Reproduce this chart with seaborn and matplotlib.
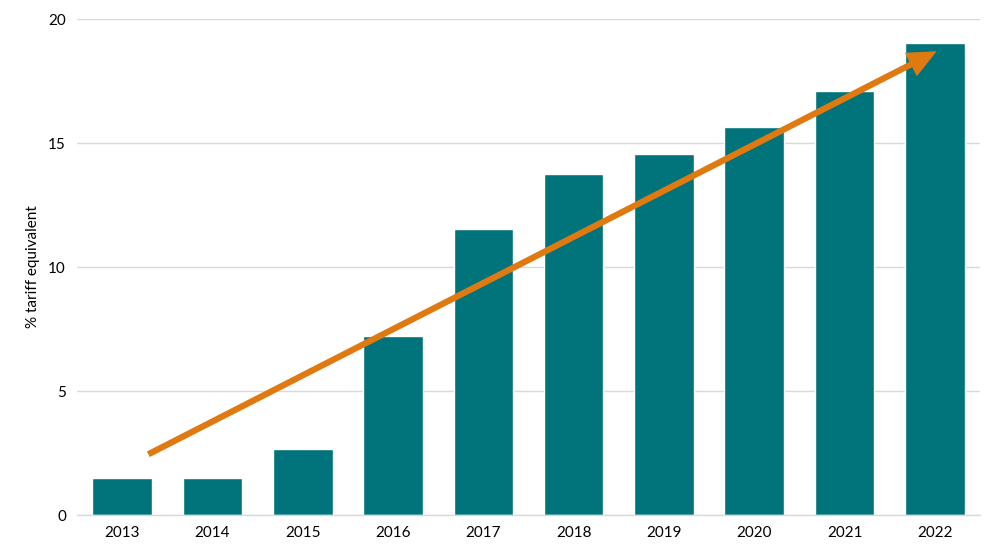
import matplotlib
matplotlib.use("Agg")
import matplotlib.pyplot as plt
import seaborn as sns
import pandas as pd

years = ["2013", "2014", "2015", "2016", "2017", "2018", "2019", "2020", "2021", "2022"]
values = [1.5, 1.5, 2.65, 7.2, 11.55, 13.75, 14.55, 15.65, 17.1, 19.05]
y_ticks = [0, 5, 10, 15, 20]
arrow_start = (0.29, 2.45)
arrow_end = (9.02, 18.7)

sns.set_theme(style="white")
plt.rcParams["font.family"] = ["Lato", "DejaVu Sans"]

df = pd.DataFrame({"year": years, "value": values})

fig = plt.figure(figsize=(10, 5.56), dpi=100)
ax = fig.add_axes([0.077, 0.0737, 0.903, 0.892])

ax.yaxis.grid(True, color="#D9D9D9", linewidth=1)
ax.set_axisbelow(True)
sns.barplot(data=df, x="year", y="value", color="#00747A", width=0.66,
            saturation=1, ax=ax, zorder=2)

ax.annotate("", xy=arrow_end, xytext=arrow_start,
            arrowprops=dict(arrowstyle="-|>,head_length=1.1,head_width=0.5",
                            color="#E07A10", lw=4.5, shrinkA=0, shrinkB=0,
                            capstyle="butt", joinstyle="miter"),
            zorder=5)

ax.set_xlim(-0.5, 9.5)
ax.set_ylim(0, 20)
ax.set_yticks(y_ticks)
ax.set_yticklabels([str(t) for t in y_ticks])
ax.set_xlabel("")
ax.set_ylabel("% tariff equivalent", fontsize=11, color="#000000", labelpad=6)
ax.tick_params(axis="both", labelsize=11, colors="#000000", length=0, pad=8)
for s in ["top", "right", "left"]:
    ax.spines[s].set_visible(False)
ax.spines["bottom"].set_color("#D9D9D9")
ax.spines["bottom"].set_linewidth(1)

fig.savefig("out.png", dpi=100, facecolor="white")
